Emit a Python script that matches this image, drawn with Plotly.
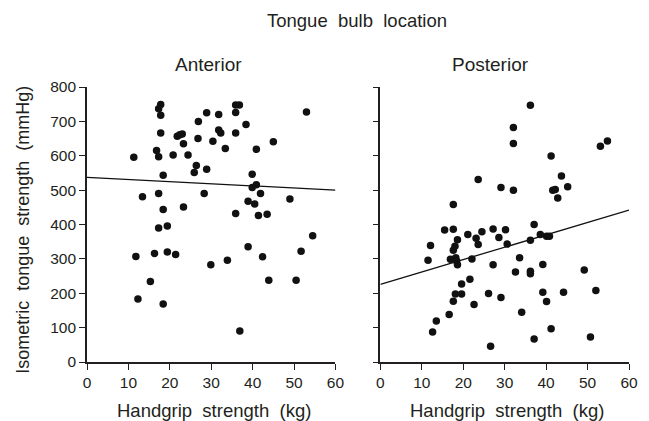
import plotly.graph_objects as go

# ---- data ----
ant_x = [11.3, 17.8, 17.3, 17.8, 17.8, 16.8, 17.3, 20.8, 18.4, 13.4,
         17.3, 18.4, 17.3, 19.4, 21.8, 22.4, 23.0, 23.3, 24.4, 26.9, 28.9,
         26.8, 26.4, 25.9, 28.9, 28.3, 23.3, 31.8, 31.8, 32.3, 30.4,
         33.4, 35.9, 36.8, 35.9, 38.4, 35.9, 40.9, 45.0, 53.0, 39.9,
         39.9, 40.9, 41.9, 38.9, 40.5, 49.0, 35.9, 41.4, 43.5, 11.8,
         16.3, 19.4, 21.4, 15.3, 12.3, 18.4, 29.9, 33.9, 38.9, 42.4,
         43.9, 36.9, 50.5, 51.7, 54.5]
ant_y = [596, 749, 737, 718, 666, 615, 597, 602, 543, 481,
         490, 444, 390, 396, 657, 661, 663, 635, 602, 700, 725,
         650, 572, 551, 561, 490, 451, 720, 675, 666, 642,
         621, 748, 748, 726, 691, 666, 619, 641, 727, 546,
         508, 516, 490, 468, 460, 474, 432, 426, 430, 307,
         316, 320, 313, 234, 183, 169, 283, 296, 335, 306,
         238, 90, 238, 322, 367]

post_x = [36.2, 32.1, 32.1, 41.2, 53.1, 54.8, 23.6, 29.1, 32.1, 43.7,
          41.6, 42.2, 45.2, 42.8, 17.6, 37.1, 15.5, 17.6, 24.5, 27.2,
          30.2, 21.1, 18.6, 23.1, 23.6, 28.6, 30.6, 36.2, 38.6, 40.1,
          40.8, 12.1, 11.5, 18.0, 17.6, 16.9, 18.2, 18.4, 18.6, 22.1,
          27.2, 33.6, 32.6, 36.2, 36.2, 39.2, 49.2, 21.6, 19.6, 18.1,
          19.6, 17.6, 26.1, 29.1, 39.2, 40.1, 44.2, 52.0, 22.6, 16.6,
          13.5, 12.6, 34.1, 41.2, 37.1, 26.6, 50.7]
post_y = [747, 682, 636, 599, 628, 643, 531, 508, 500, 541,
          500, 502, 510, 477, 458, 400, 384, 386, 379, 387,
          385, 371, 356, 360, 342, 362, 343, 354, 371, 366,
          366, 339, 296, 337, 325, 299, 303, 294, 283, 300,
          283, 303, 262, 264, 257, 284, 268, 241, 227, 198,
          198, 177, 199, 188, 203, 176, 203, 208, 167, 138,
          119, 87, 145, 97, 67, 46, 73]

fit_x = [0, 60]
ant_fit = [537, 500]
post_fit = [226, 442]

x_ticks = [0, 10, 20, 30, 40, 50, 60]
y_ticks = [0, 100, 200, 300, 400, 500, 600, 700, 800]

TXT = "#231f20"
FONT = "Liberation Sans, Arial, sans-serif"

fig = go.Figure()
mk = dict(color="#111111", size=7.5, line=dict(width=0))
fig.add_trace(go.Scatter(x=ant_x, y=ant_y, mode="markers", marker=mk,
                         xaxis="x", yaxis="y", showlegend=False))
fig.add_trace(go.Scatter(x=fit_x, y=ant_fit, mode="lines",
                         line=dict(color="#111111", width=1.3),
                         xaxis="x", yaxis="y", showlegend=False))
fig.add_trace(go.Scatter(x=post_x, y=post_y, mode="markers", marker=mk,
                         xaxis="x2", yaxis="y2", showlegend=False))
fig.add_trace(go.Scatter(x=fit_x, y=post_fit, mode="lines",
                         line=dict(color="#111111", width=1.3),
                         xaxis="x2", yaxis="y2", showlegend=False))

ax_common = dict(showline=True, linecolor="#231f20", linewidth=1.6,
                 ticks="outside", ticklen=6, tickwidth=1.4,
                 tickcolor="#231f20", showgrid=False, zeroline=False,
                 tickfont=dict(family=FONT, size=15.5, color=TXT))

fig.update_layout(
    width=649, height=421, autosize=False,
    margin=dict(l=86.5, r=11.4, t=87, b=59.3),
    paper_bgcolor="white", plot_bgcolor="white",
    font=dict(family=FONT, color=TXT),
    xaxis=dict(domain=[0, 0.4584], range=[0, 60], tickvals=x_ticks,
               anchor="y", **ax_common),
    yaxis=dict(domain=[0, 1], range=[0, 800], tickvals=y_ticks,
               anchor="x", **ax_common),
    xaxis2=dict(domain=[0.5413, 1], range=[0, 60], tickvals=x_ticks,
                anchor="y2", **ax_common),
    yaxis2=dict(domain=[0, 1], range=[0, 800], tickvals=y_ticks,
                anchor="x2", showticklabels=False, **ax_common),
)

ann = [
    dict(text="Tongue  bulb  location", x=0.4987, y=1.2425, size=18.5),
    dict(text="Anterior", x=0.224, y=1.0825, size=19),
    dict(text="Posterior", x=0.744, y=1.0825, size=19),
    dict(text="Handgrip  strength  (kg)", x=0.234, y=-0.1756, size=18.5),
    dict(text="Handgrip  strength  (kg)", x=0.775, y=-0.1756, size=18.5),
]
for a in ann:
    fig.add_annotation(text=a["text"], x=a["x"], y=a["y"], xref="paper",
                       yref="paper", showarrow=False, xanchor="center",
                       yanchor="middle",
                       font=dict(family=FONT, size=a["size"], color=TXT))
fig.add_annotation(text="Isometric  tongue  strength  (mmHg)", x=-0.117,
                   y=0.479, xref="paper", yref="paper", showarrow=False,
                   textangle=-90, xanchor="center", yanchor="middle",
                   font=dict(family=FONT, size=18, color=TXT))

fig.write_html(
    "out.html",
    config={"displayModeBar": False, "responsive": False},
    post_script=("document.body.style.margin='0';"
                 "document.body.style.overflow='hidden';"
                 "document.documentElement.style.overflow='hidden';"),
)
